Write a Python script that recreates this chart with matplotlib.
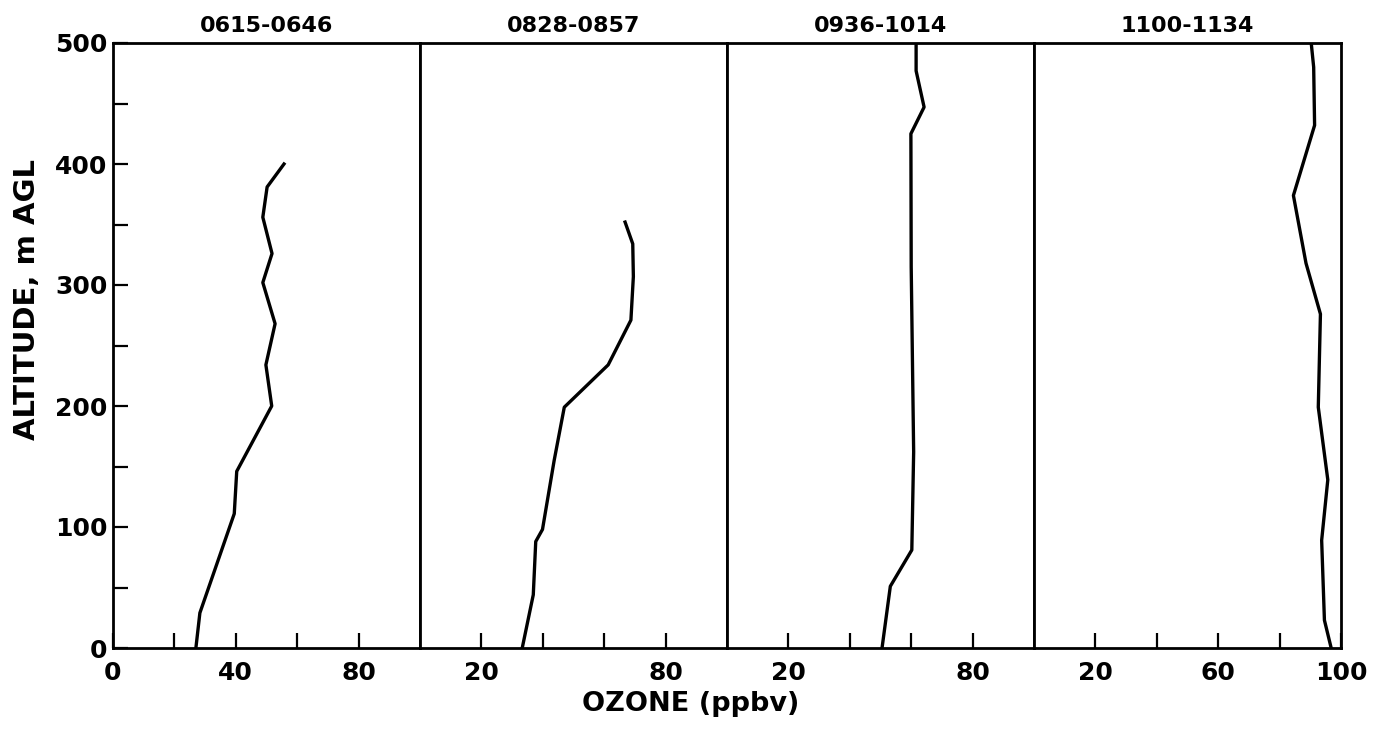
import matplotlib
matplotlib.use("Agg")
import matplotlib.pyplot as plt

plt.rcParams['font.family'] = ['DejaVu Sans']
plt.rcParams['font.weight'] = 'bold'

titles = ["0615-0646", "0828-0857", "0936-1014", "1100-1134"]

ozone_1 = [27.0, 28.3, 39.5, 40.3, 51.7, 49.8, 52.8, 48.8, 51.8, 48.8, 50.2, 55.7]
alt_1 = [0, 29, 111, 146, 200, 234, 268, 302, 326, 356, 381, 400]

ozone_2 = [33.3, 36.9, 37.7, 39.9, 43.7, 47.0, 61.3, 68.7, 69.5, 69.3, 66.8]
alt_2 = [0, 44, 88, 98, 155, 199, 234, 271, 307, 334, 352]

ozone_3 = [50.5, 53.2, 60.2, 60.8, 60.0, 59.9, 64.2, 61.6, 61.6]
alt_3 = [0, 51, 81, 162, 315, 425, 447, 477, 500]

ozone_4 = [96.8, 94.6, 93.7, 95.7, 92.6, 93.3, 88.6, 84.5, 91.4, 91.1, 90.3]
alt_4 = [0, 23, 89, 139, 199, 276, 318, 374, 432, 480, 500]

series = [(ozone_1, alt_1), (ozone_2, alt_2), (ozone_3, alt_3), (ozone_4, alt_4)]

x_ticks = [
    [0, 20, 40, 60, 80],
    [20, 40, 60, 80],
    [20, 40, 60, 80],
    [20, 40, 60, 80, 100],
]
x_labels = [
    ["0", "", "40", "", "80"],
    ["20", "", "", "80"],
    ["20", "", "", "80"],
    ["20", "", "60", "", "100"],
]
y_ticks = [0, 50, 100, 150, 200, 250, 300, 350, 400, 450, 500]
y_labels = ["0", "", "100", "", "200", "", "300", "", "400", "", "500"]

fig = plt.figure(figsize=(13.8, 7.35), dpi=100)
fig.subplots_adjust(left=113/1380, right=1341/1380, bottom=1-648/735, top=1-43/735, wspace=0)
axes = fig.subplots(1, 4, sharey=True)

for i, ax in enumerate(axes):
    xs, ys = series[i]
    ax.plot(xs, ys, color='black', lw=2.4, solid_joinstyle='round')
    ax.set_xlim(0, 100)
    ax.set_ylim(0, 500)
    for s in ax.spines.values():
        s.set_linewidth(2.0)
    ax.set_xticks(x_ticks[i])
    ax.set_xticklabels(x_labels[i], fontsize=18, fontweight='bold')
    ax.tick_params(axis='x', direction='in', length=11, width=1.6, pad=9)
    ax.set_title(titles[i], fontsize=16, fontweight='bold', pad=8)
    if i == 0:
        ax.set_yticks(y_ticks)
        ax.set_yticklabels(y_labels, fontsize=18, fontweight='bold')
        ax.tick_params(axis='y', direction='in', length=11, width=1.6, pad=4)
    else:
        ax.tick_params(axis='y', left=False, labelleft=False)

fig.text(691/1380, 1-704/735, "OZONE (ppbv)", ha='center', va='center', fontsize=19.5, fontweight='bold')
fig.text(27/1380, 1-300/735, "ALTITUDE, m AGL", ha='center', va='center', rotation=90, fontsize=21, fontweight='bold')

fig.savefig("out.png", dpi=100)
